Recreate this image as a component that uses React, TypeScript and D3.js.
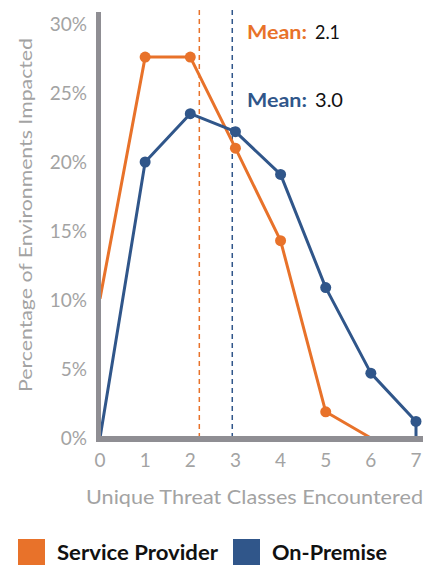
import React from "react";
import * as d3 from "d3";

const xTicks = [0, 1, 2, 3, 4, 5, 6, 7];
const yTicks = [0, 5, 10, 15, 20, 25, 30];
const spX = [0, 1, 2, 3, 4, 5, 6];
const spY = [10.1, 27.6, 27.6, 21.0, 14.3, 1.9, 0];
const spMarkers = [1, 2, 3, 4, 5];
const opX = [0, 1, 2, 3, 4, 5, 6, 7, 7];
const opY = [0, 20.0, 23.5, 22.2, 19.1, 10.9, 4.7, 1.2, 0];
const opMarkers = [1, 2, 3, 4, 5, 6, 7];
const meanPos = [2.2, 2.93];
const meanLabels = ["2.1", "3.0"];
const seriesNames = ["Service Provider", "On-Premise"];
const colors = ["#E8722A", "#30568A"];
const axisColor = "#8F8E93";
const textGray = "#A3A3A3";
const font = "Lato, 'Noto Sans', sans-serif";

export default function App() {
  const W = 438, H = 565;
  const x = d3.scaleLinear().domain([0, 7]).range([100, 416]);
  const y = d3.scaleLinear().domain([0, 30]).range([438, 24]);
  const line = d3.line<[number, number]>().x(d => x(d[0])).y(d => y(d[1]));
  const sp: [number, number][] = spX.map((v, i) => [v, spY[i]]);
  const op: [number, number][] = opX.map((v, i) => [v, opY[i]]);
  const meanY = [39, 107];
  const numLen = [25, 28];
  const legX = [18, 233];
  const legLen = [161, 115];
  return (
    <svg width={W} height={H} style={{ position: "absolute", left: 0, top: 0, background: "#fff" }}>
      {meanPos.map((m, i) => (
        <line key={i} x1={x(m)} x2={x(m)} y1={10} y2={436} stroke={colors[i]} strokeWidth={1.5} strokeDasharray="5,4" />
      ))}
      <path d={line(sp) || ""} fill="none" stroke={colors[0]} strokeWidth={3} strokeLinejoin="round" />
      <path d={line(op) || ""} fill="none" stroke={colors[1]} strokeWidth={3} strokeLinejoin="round" />
      {spMarkers.map(i => (
        <circle key={"s" + i} cx={x(spX[i])} cy={y(spY[i])} r={5.5} fill={colors[0]} />
      ))}
      {opMarkers.map(i => (
        <circle key={"o" + i} cx={x(opX[i])} cy={y(opY[i])} r={5.5} fill={colors[1]} />
      ))}
      <rect x={96} y={12} width={5} height={430} fill={axisColor} />
      <rect x={96} y={436} width={327} height={6} fill={axisColor} />
      {yTicks.map(t => (
        <text key={t} x={87} y={y(t) + 7} textAnchor="end" fontSize={19} fill={textGray} fontFamily={font}>{t}%</text>
      ))}
      {xTicks.map(t => (
        <text key={t} x={x(t)} y={467} textAnchor="middle" fontSize={19} fill={textGray} fontFamily={font}>{t}</text>
      ))}
      <text x={86} y={504} fontSize={19} fill={textGray} fontFamily={font} textLength={337} lengthAdjust="spacingAndGlyphs">Unique Threat Classes Encountered</text>
      <text transform="translate(32,392) rotate(-90)" fontSize={18} fill={textGray} fontFamily={font} textLength={354} lengthAdjust="spacingAndGlyphs">Percentage of Environments Impacted</text>
      {meanLabels.map((l, i) => (
        <g key={i}>
          <text x={247} y={meanY[i]} fontSize={19.5} fontFamily={font} fill={colors[i]} fontWeight="bold" textLength={60} lengthAdjust="spacingAndGlyphs">Mean:</text>
          <text x={315} y={meanY[i]} fontSize={19.5} fontFamily={font} fill="#111" textLength={numLen[i]} lengthAdjust="spacingAndGlyphs">{l}</text>
        </g>
      ))}
      {seriesNames.map((n, i) => (
        <g key={n} transform={`translate(${legX[i]},539)`}>
          <rect width={27} height={27} fill={colors[i]} />
          <text x={39} y={21} fontSize={20} fontWeight="bold" fill="#111" fontFamily={font} textLength={legLen[i]} lengthAdjust="spacingAndGlyphs">{n}</text>
        </g>
      ))}
    </svg>
  );
}
